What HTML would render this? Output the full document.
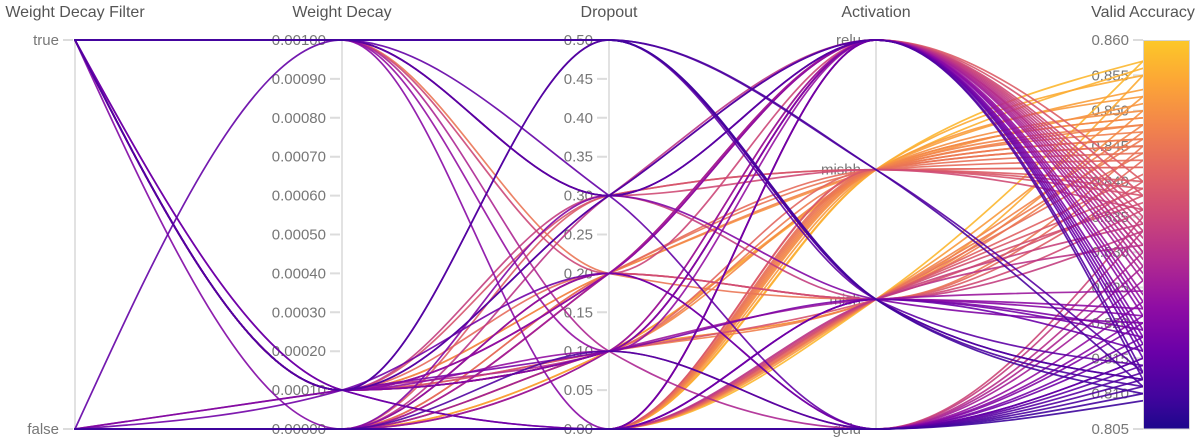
<!DOCTYPE html>
<html>
<head>
<meta charset="utf-8">
<style>
html,body{margin:0;padding:0;background:#fff;}
svg{display:block;font-family:"Liberation Sans",sans-serif;}
.t{font-size:16px;fill:#555;text-anchor:middle;}
.k{font-size:15px;fill:#777;text-anchor:end;}
</style>
</head>
<body>
<svg id="s" width="1200" height="444" viewBox="0 0 1200 444" xmlns="http://www.w3.org/2000/svg">
<defs>
<linearGradient id="cb" x1="0" y1="1" x2="0" y2="0">
<stop offset="0" stop-color="#1d078c"/>
<stop offset="0.081" stop-color="#41049d"/>
<stop offset="0.198" stop-color="#6a00a8"/>
<stop offset="0.314" stop-color="#8f0da4"/>
<stop offset="0.430" stop-color="#b12a90"/>
<stop offset="0.547" stop-color="#cc4778"/>
<stop offset="0.663" stop-color="#e16462"/>
<stop offset="0.779" stop-color="#f2844b"/>
<stop offset="0.895" stop-color="#fca636"/>
<stop offset="1" stop-color="#fcc828"/>
</linearGradient>
</defs>

<!-- titles -->
<text class="t" x="75" y="17">Weight Decay Filter</text>
<text class="t" x="342" y="17">Weight Decay</text>
<text class="t" x="609" y="17">Dropout</text>
<text class="t" x="876" y="17">Activation</text>
<text class="t" x="1143" y="17">Valid Accuracy</text>

<!-- axis lines -->
<g stroke="#e2e2e2" stroke-width="2" fill="none">
<path d="M75 40V430M342 40V430M609 40V430M876 40V430"/>
</g>

<!-- tick marks -->
<g stroke="#dcdcdc" stroke-width="2" fill="none">
<path d="M63 40H73M63 429H73"/>
<path d="M330 40H340M330 78.9H340M330 117.8H340M330 156.7H340M330 195.6H340M330 234.5H340M330 273.4H340M330 312.3H340M330 351.2H340M330 390.1H340M330 429H340"/>
<path d="M597 40H607M597 78.9H607M597 117.8H607M597 156.7H607M597 195.6H607M597 234.5H607M597 273.4H607M597 312.3H607M597 351.2H607M597 390.1H607M597 429H607"/>
<path d="M864 40H874M864 169.7H874M864 299.3H874M864 429H874"/>
<path d="M1133 40H1143M1133 75.4H1143M1133 110.7H1143M1133 146.1H1143M1133 181.5H1143M1133 216.8H1143M1133 252.2H1143M1133 287.5H1143M1133 322.9H1143M1133 358.3H1143M1133 393.6H1143M1133 429H1143"/>
</g>

<!-- tick labels -->
<text class="k" x="59" y="45">true</text>
<text class="k" x="59" y="434">false</text>

<text class="k" x="326" y="45">0.00100</text>
<text class="k" x="326" y="83.9">0.00090</text>
<text class="k" x="326" y="122.8">0.00080</text>
<text class="k" x="326" y="161.7">0.00070</text>
<text class="k" x="326" y="200.6">0.00060</text>
<text class="k" x="326" y="239.5">0.00050</text>
<text class="k" x="326" y="278.4">0.00040</text>
<text class="k" x="326" y="317.3">0.00030</text>
<text class="k" x="326" y="356.2">0.00020</text>
<text class="k" x="326" y="395.1">0.00010</text>
<text class="k" x="326" y="434">0.00000</text>

<text class="k" x="593" y="45">0.50</text>
<text class="k" x="593" y="83.9">0.45</text>
<text class="k" x="593" y="122.8">0.40</text>
<text class="k" x="593" y="161.7">0.35</text>
<text class="k" x="593" y="200.6">0.30</text>
<text class="k" x="593" y="239.5">0.25</text>
<text class="k" x="593" y="278.4">0.20</text>
<text class="k" x="593" y="317.3">0.15</text>
<text class="k" x="593" y="356.2">0.10</text>
<text class="k" x="593" y="395.1">0.05</text>
<text class="k" x="593" y="434">0.00</text>

<text class="k" x="861" y="45">relu</text>
<text class="k" x="861" y="174.7">mishh</text>
<text class="k" x="861" y="304.3">mish</text>
<text class="k" x="861" y="434">gelu</text>

<text class="k" x="1129" y="45">0.860</text>
<text class="k" x="1129" y="80.4">0.855</text>
<text class="k" x="1129" y="115.7">0.850</text>
<text class="k" x="1129" y="151.1">0.845</text>
<text class="k" x="1129" y="186.5">0.840</text>
<text class="k" x="1129" y="221.8">0.835</text>
<text class="k" x="1129" y="257.2">0.830</text>
<text class="k" x="1129" y="292.5">0.825</text>
<text class="k" x="1129" y="327.9">0.820</text>
<text class="k" x="1129" y="363.3">0.815</text>
<text class="k" x="1129" y="398.6">0.810</text>
<text class="k" x="1129" y="434">0.805</text>

<g id="lines" fill="none" stroke-width="1.7" stroke-opacity="0.9" stroke-linecap="round"></g>

<rect x="1143.5" y="40.5" width="46" height="388.5" fill="url(#cb)" stroke="#d4d4d4" stroke-width="1"/>
</svg>

<script>
(function(){
var X=[75,342,609,876,1143];
var AY=[40,169.7,299.3,429];
function yF(v){return v?40:429;}
function yW(v){return 429-v/0.001*389;}
function yD(v){return 429-v/0.5*389;}
function yA(v){return 429-(v-0.805)/0.055*389;}
var P=[[13,8,135],[65,4,157],[106,0,168],[143,13,164],[177,42,144],[204,71,120],[225,100,98],[242,132,75],[252,166,54],[252,206,37],[240,249,33]];
function plasma(p){
  p=Math.max(0,Math.min(1,p))*10;
  var i=Math.min(9,Math.floor(p)),f=p-i,a=P[i],b=P[i+1];
  return 'rgb('+Math.round(a[0]+(b[0]-a[0])*f)+','+Math.round(a[1]+(b[1]-a[1])*f)+','+Math.round(a[2]+(b[2]-a[2])*f)+')';
}
function col(acc){var t=(acc-0.805)/0.055;return plasma(0.03+t*0.86);}
function sgn(x){return x<0?-1:1;}
function slope3(x0,y0,x1,y1,x2,y2){
  var h0=x1-x0,h1=x2-x1,s0=(y1-y0)/h0,s1=(y2-y1)/h1,p=(s0*h1+s1*h0)/(h0+h1);
  return (sgn(s0)+sgn(s1))*Math.min(Math.abs(s0),Math.abs(s1),0.5*Math.abs(p))||0;
}
function slope2(x0,y0,x1,y1,t){var h=x1-x0;return h?(3*(y1-y0)/h-t)/2:t;}
function pathD(xs,ys){
  var n=xs.length,t=[],i;
  for(i=1;i<n-1;i++)t[i]=slope3(xs[i-1],ys[i-1],xs[i],ys[i],xs[i+1],ys[i+1]);
  t[0]=slope2(xs[0],ys[0],xs[1],ys[1],t[1]);
  t[n-1]=slope2(xs[n-2],ys[n-2],xs[n-1],ys[n-1],t[n-2]);
  var d='M'+xs[0]+' '+ys[0].toFixed(2);
  for(i=0;i<n-1;i++){
    var dx=(xs[i+1]-xs[i])/3;
    d+='C'+(xs[i]+dx).toFixed(2)+' '+(ys[i]+dx*t[i]).toFixed(2)+' '+(xs[i+1]-dx).toFixed(2)+' '+(ys[i+1]-dx*t[i+1]).toFixed(2)+' '+xs[i+1]+' '+ys[i+1].toFixed(2);
  }
  return d;
}
var R=[
// relu
[1,.001,.3,0,.813],[0,.001,.3,0,.815],[1,.001,.3,0,.817],[1,.0001,.3,0,.812],
[1,.0001,.2,0,.822],[0,0,.2,0,.826],[1,.0001,.2,0,.830],[0,0,.2,0,.834],[1,.0001,.2,0,.828],
[1,.0001,.1,0,.819],[0,0,.1,0,.824],[1,.0001,.1,0,.832],[0,0,.1,0,.836],[1,.0001,.1,0,.827],
[0,0,0,0,.821],[0,0,0,0,.829],[1,.0001,0,0,.816],[0,0,0,0,.838],[0,0,.2,0,.833],
[0,.0001,.1,0,.830],[0,0,.3,0,.831],[1,.001,.2,0,.835],[1,.001,.1,0,.823],[0,0,0,0,.840],[1,.0001,.3,0,.818],
// mishh
[1,.001,.5,1,.811],[1,.001,.5,1,.813],[1,.0001,.3,1,.838],[0,0,.3,1,.840],[1,.001,.3,1,.836],
[0,0,.2,1,.845],[1,.0001,.2,1,.848],[0,0,.2,1,.843],[1,.0001,.2,1,.851],
[1,.0001,.1,1,.846],[0,0,.1,1,.853],[1,.0001,.1,1,.849],[0,0,.1,1,.856],[1,.0001,.1,1,.842],
[0,0,0,1,.844],[0,0,0,1,.847],[0,0,0,1,.850],[0,0,0,1,.846],[0,0,0,1,.855],[0,0,0,1,.848],
[0,0,0,1,.842],[0,0,0,1,.852],[0,0,0,1,.857],[0,0,0,1,.845],[0,0,0,1,.849],[0,0,0,1,.839],
// mish
[1,.001,.5,2,.810],[1,.001,.5,2,.811],[1,.001,.5,2,.812],[1,.0001,.5,2,.814],[1,.0001,.5,2,.812],
[1,.0001,.3,2,.833],[0,0,.3,2,.820],[0,0,.2,2,.840],[1,.0001,.2,2,.843],[0,0,.2,2,.836],[1,.001,.2,2,.845],
[1,.0001,.1,2,.847],[0,0,.1,2,.850],[1,.0001,.1,2,.838],[0,0,.1,2,.855],[0,.0001,.1,2,.819],[0,0,.1,2,.8245],
[0,0,0,2,.834],[0,0,0,2,.837],[0,0,0,2,.841],[0,0,0,2,.844],[0,0,0,2,.831],[0,0,0,2,.848],
[0,0,0,2,.852],[0,0,0,2,.839],[0,0,0,2,.846],[0,0,0,2,.857],
[0,0,0,2,.816],[0,0,0,2,.818],[1,.0001,0,2,.822],[1,.001,0,2,.821],
// gelu
[1,.001,.3,3,.815],[0,.0001,.2,3,.817],[0,0,.2,3,.821],[1,.0001,.1,3,.823],[0,0,.1,3,.812],[1,.001,.1,3,.828],
[0,0,0,3,.809],[0,0,0,3,.811],[0,0,0,3,.813],[0,0,0,3,.815],[1,0,0,3,.820],[0,0,0,3,.818],
[0,0,0,3,.826],[0,0,0,3,.830],[0,0,0,3,.833],[0,0,0,3,.835],[0,0,0,3,.814],[0,0,0,3,.810]
];
// draw high accuracy first, low accuracy (dark) on top
R.sort(function(a,b){return b[4]-a[4];});
var g=document.getElementById('lines');
var ns='http://www.w3.org/2000/svg';
for(var k=0;k<R.length;k++){
  var r=R[k];
  var ys=[yF(r[0]),yW(r[1]),yD(r[2]),AY[r[3]],yA(r[4])];
  var p=document.createElementNS(ns,'path');
  p.setAttribute('d',pathD(X,ys));
  p.setAttribute('stroke',col(r[4]));
  g.appendChild(p);
}
})();
</script>
</body>
</html>
